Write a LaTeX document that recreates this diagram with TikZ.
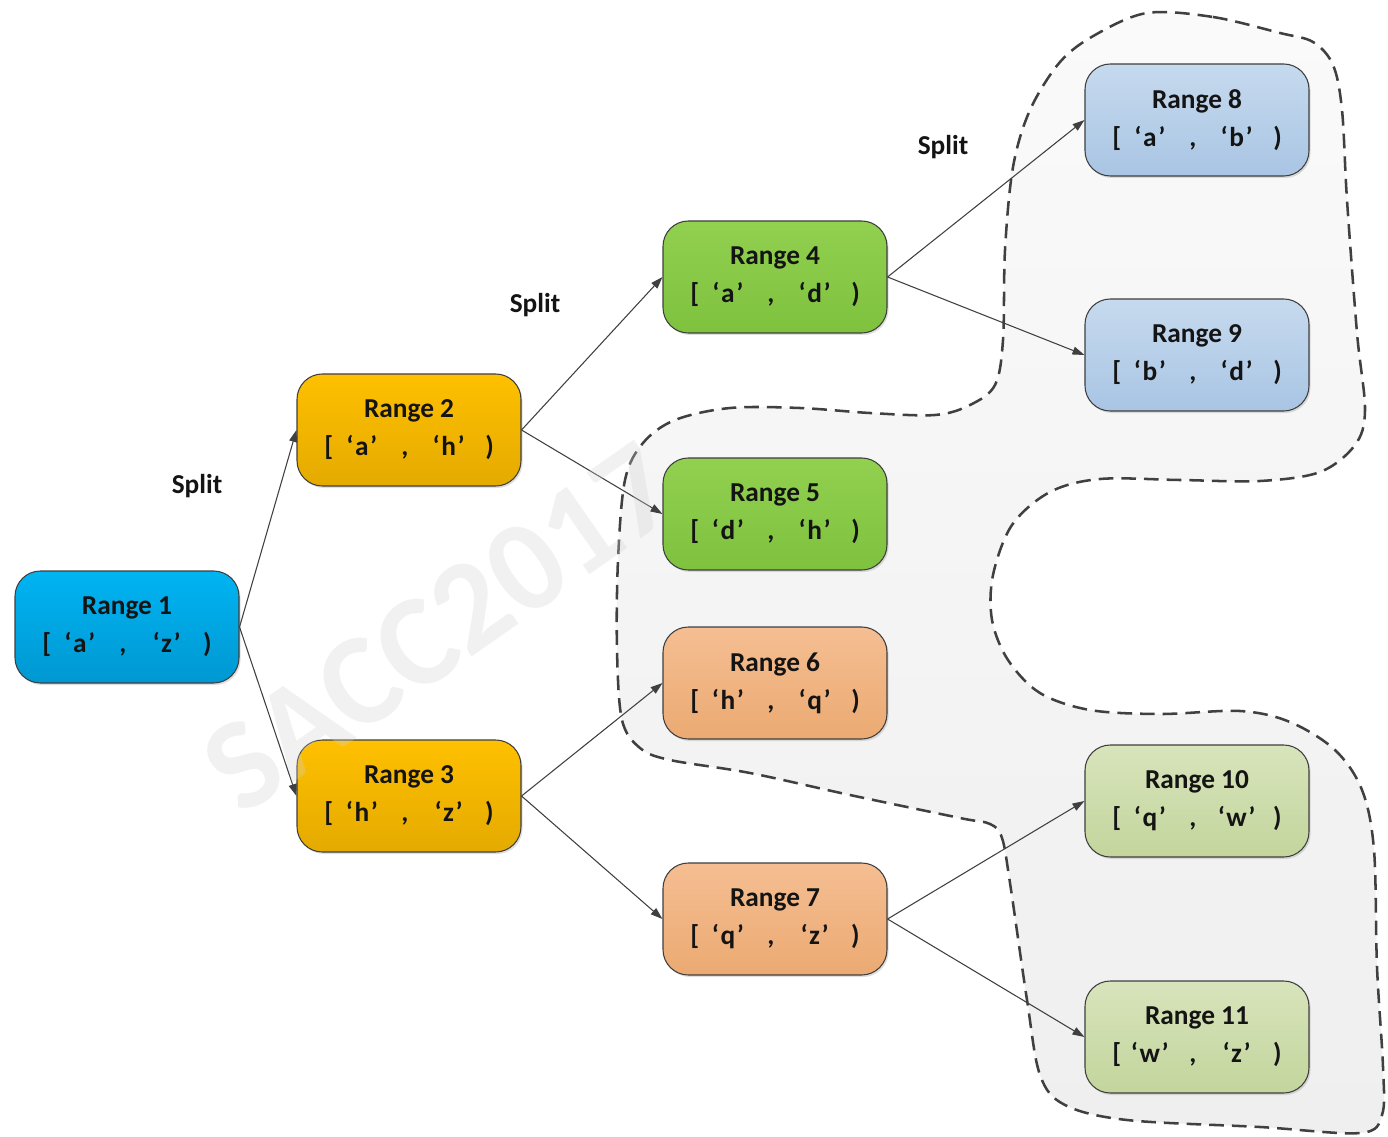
\documentclass[tikz,border=0pt]{standalone}
\usepackage{fontspec}
\setmainfont{Carlito}
\usetikzlibrary{arrows.meta,shadows}
\newcommand{\rng}[2]{\makebox[0.45em][l]{[}\makebox[1.85em]{‘\kern0.06em#1\kern0.06em’}\makebox[1.3em]{,}\makebox[1.9em]{‘\kern0.06em#2\kern0.06em’}\makebox[0.7em][r]{)}}
\definecolor{bdr}{HTML}{3F3F3F}
\definecolor{edgec}{HTML}{404040}
\definecolor{blueT}{HTML}{00B4F2}\definecolor{blueB}{HTML}{0098D2}
\definecolor{oranT}{HTML}{FFC000}\definecolor{oranB}{HTML}{E4AA00}
\definecolor{grnT}{HTML}{92D050}\definecolor{grnB}{HTML}{7EC23E}
\definecolor{salT}{HTML}{F5BE92}\definecolor{salB}{HTML}{EBAA72}
\definecolor{lbT}{HTML}{C6DAEE}\definecolor{lbB}{HTML}{A9C5E4}
\definecolor{olT}{HTML}{D8E4BC}\definecolor{olB}{HTML}{C3D59C}
\definecolor{blobT}{HTML}{FAFAFA}\definecolor{blobB}{HTML}{EFEFEF}
\definecolor{dashc}{HTML}{404040}
\definecolor{wmark}{HTML}{D2D2D2}
\tikzset{
  rbox/.style={draw=bdr, line width=0.8pt, rounded corners=19pt, minimum width=168pt, minimum height=84pt,
    inner sep=0pt, align=center, font=\fontsize{20.5}{28.5}\selectfont\bfseries, text=black!92,
    drop shadow={shadow xshift=1.2pt, shadow yshift=-1.5pt, opacity=0.25}},
  cblue/.style={top color=blueT, bottom color=blueB},
  corange/.style={top color=oranT, bottom color=oranB},
  cgreen/.style={top color=grnT, bottom color=grnB},
  csalmon/.style={top color=salT, bottom color=salB},
  clblue/.style={top color=lbT, bottom color=lbB},
  colive/.style={top color=olT, bottom color=olB},
  edge/.style={draw=edgec, line width=0.8pt, -{Triangle[length=9pt,width=6pt]}},
  splitlbl/.style={font=\fontsize{20.5}{24}\selectfont\bfseries, text=black!92},
  blob/.style={draw=dashc, line width=1.9pt, dash pattern=on 11pt off 6pt,
    top color=blobT, bottom color=blobB}
}
\begin{document}
\begin{tikzpicture}[x=0.75pt,y=-0.75pt]
\useasboundingbox (0,0) rectangle (1388,1137);
% dashed region
\path[blob] plot[smooth cycle, tension=0.55] coordinates {
(1147,13) (1213,17) (1280,33) (1313,42) (1333,65) (1342,110) (1347,200) (1357,333) (1365,410)
(1355,445) (1320,472) (1260,481) (1180,480) (1100,479) (1050,492) (1012,525) (993,575) (992,620)
(1008,660) (1040,693) (1090,710) (1160,714) (1240,711) (1290,722) (1335,750) (1362,790) (1374,850)
(1377,967) (1383,1067) (1382,1115) (1360,1133) (1260,1127) (1127,1120) (1065,1105) (1040,1075)
(1027,1000) (1010,883) (1002,838) (990,824) (960,818) (850,795) (750,773) (670,760) (640,748)
(622,720) (617,650) (618,560) (625,480) (643,443) (675,420) (730,408) (800,408) (870,413) (935,415)
(970,405) (995,385) (1003,340) (1005,250) (1013,167) (1030,110) (1060,62) (1095,35)};
% nodes
\node[rbox,cblue] (r1) at (127,627) {Range 1\\\rng{a}{z}};
\node[rbox,corange] (r2) at (409,430) {Range 2\\\rng{a}{h}};
\node[rbox,corange] (r3) at (409,796) {Range 3\\\rng{h}{z}};
\node[rbox,cgreen] (r4) at (775,277) {Range 4\\\rng{a}{d}};
\node[rbox,cgreen] (r5) at (775,514) {Range 5\\\rng{d}{h}};
\node[rbox,csalmon] (r6) at (775,683) {Range 6\\\rng{h}{q}};
\node[rbox,csalmon] (r7) at (775,919) {Range 7\\\rng{q}{z}};
\node[rbox,clblue] (r8) at (1197,120) {Range 8\\\rng{a}{b}};
\node[rbox,clblue] (r9) at (1197,355) {Range 9\\\rng{b}{d}};
\node[rbox,colive] (r10) at (1197,801) {Range 10\\\rng{q}{w}};
\node[rbox,colive] (r11) at (1197,1037) {Range 11\\\rng{w}{z}};
% edges
\draw[edge] (r1.east) -- (r2.west);
\draw[edge] (r1.east) -- (r3.west);
\draw[edge] (r2.east) -- (r4.west);
\draw[edge] (r2.east) -- (r5.west);
\draw[edge] (r3.east) -- (r6.west);
\draw[edge] (r3.east) -- (r7.west);
\draw[edge] (r4.east) -- (r8.west);
\draw[edge] (r4.east) -- (r9.west);
\draw[edge] (r7.east) -- (r10.west);
\draw[edge] (r7.east) -- (r11.west);
% labels
\node[splitlbl] (s1) at (197,486) {Split};
\node[splitlbl] (s2) at (535,305) {Split};
\node[splitlbl] (s3) at (943,147) {Split};
% watermark
\node[rotate=35, text=wmark, opacity=0.3, font=\fontsize{98}{98}\selectfont\bfseries] (wm) at (440,628) {SACC2017};
\end{tikzpicture}
\end{document}
